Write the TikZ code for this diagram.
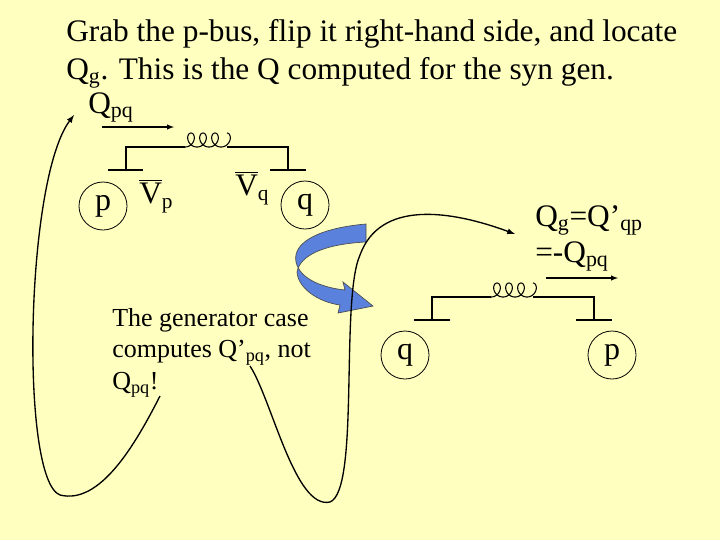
\documentclass[tikz,border=0pt]{standalone}
\usepackage{fontspec}
\setmainfont{Liberation Serif}
\begin{document}
\begin{tikzpicture}[x=1pt,y=-1pt,
  big/.style={font=\fontsize{23.5}{26}\selectfont,anchor=base west,inner sep=0},
  mid/.style={font=\fontsize{19.5}{22}\selectfont,anchor=base west,inner sep=0},
  wire/.style={line width=0.8pt},
  busc/.style={circle,draw,line width=0.6pt,minimum size=36pt,inner sep=0,font=\fontsize{24}{26}\selectfont},
  conn/.style={line width=1pt,-latex}]
\definecolor{bg}{RGB}{255,255,192}
\definecolor{arrowblue}{RGB}{90,130,220}
\fill[bg] (0,0) rectangle (540,405);
\useasboundingbox (0,0) rectangle (540,405);
\begin{scope}[scale=0.75]
\node[big] (t1) at (66,41) {Grab the p-bus, flip it right-hand side, and locate};
\node[big] (t2) at (66,79) {Q\textsubscript{g}. This is the Q computed for the syn gen.};
\node[big] (q1) at (88,113) {Q\textsubscript{pq}};
\coordinate (a1s) at (102,127); \coordinate (a1e) at (174,127);
\draw[line width=0.8pt,-latex] (a1s) -- (a1e);
% circuit 1
\draw[wire] (126,170) -- (126,147) -- (185,147);
\draw[wire,domain=0:1260,samples=240,variable=\t] plot ({185 + \t/360*12 + 6*sin(\t)}, {147 - 7*(1-cos(\t))});
\draw[wire] (227,147) -- (288,147) -- (288,170);
\draw[wire] (108,170) -- (143,170);
\draw[wire] (270,170) -- (306,170);
\node[busc] (p1) at (103,206) {p};
\node[busc] (qq1) at (305,205) {q};
\node[big] (vp) at (139,203) {$\overline{\mbox{V}}$\raisebox{-4pt}{\fontsize{16}{18}\selectfont p}};
\node[big] (vq) at (235,195) {$\overline{\mbox{V}}$\raisebox{-4pt}{\fontsize{16}{18}\selectfont q}};
% blue arrow
\fill[arrowblue,draw=black!70,line width=0.5pt] (366,224) .. controls (320,228) and (292,242) .. (296,262)
 .. controls (300,280) and (325,288) .. (345,290) -- (343,282) -- (373,306) -- (338,313) -- (340,305)
 .. controls (318,302) and (298,288) .. (297,272) .. controls (300,255) and (325,244) .. (366,242) -- cycle;
% text
\node[mid] (g1) at (112,326) {The generator case};
\node[mid] (g2) at (112,357) {computes Q’\textsubscript{pq}, not};
\node[mid] (g3) at (112,389) {Q\textsubscript{pq}!};
\coordinate (c1) at (160,396);
\coordinate (c1e) at (74,115);
\draw[conn] (c1) .. controls (135,445) and (100,505) .. (60,495) .. controls (20,480) and (25,180) .. (c1e);
\coordinate (c2) at (250,366);
\coordinate (c2e) at (515,234);
\draw[conn] (c2) .. controls (272,400) and (295,510) .. (330,502) .. controls (360,490) and (340,300) .. (360,255) .. controls (380,200) and (450,210) .. (c2e);
% right side
\node[big] (qg) at (535,226) {Q\textsubscript{g}=Q’\textsubscript{qp}};
\node[big] (mq) at (535,262) {=-Q\textsubscript{pq}};
\coordinate (a2s) at (546,278); \coordinate (a2e) at (618,278);
\draw[line width=0.8pt,-latex] (a2s) -- (a2e);
\draw[wire] (432,320) -- (432,297) -- (491,297);
\draw[wire,domain=0:1260,samples=240,variable=\t] plot ({491 + \t/360*12 + 6*sin(\t)}, {297 - 7*(1-cos(\t))});
\draw[wire] (533,297) -- (594,297) -- (594,320);
\draw[wire] (414,320) -- (450,320);
\draw[wire] (576,320) -- (612,320);
\node[busc] (qq2) at (405,355) {q};
\node[busc] (p2) at (612,355) {p};
\end{scope}
\end{tikzpicture}
\end{document}
